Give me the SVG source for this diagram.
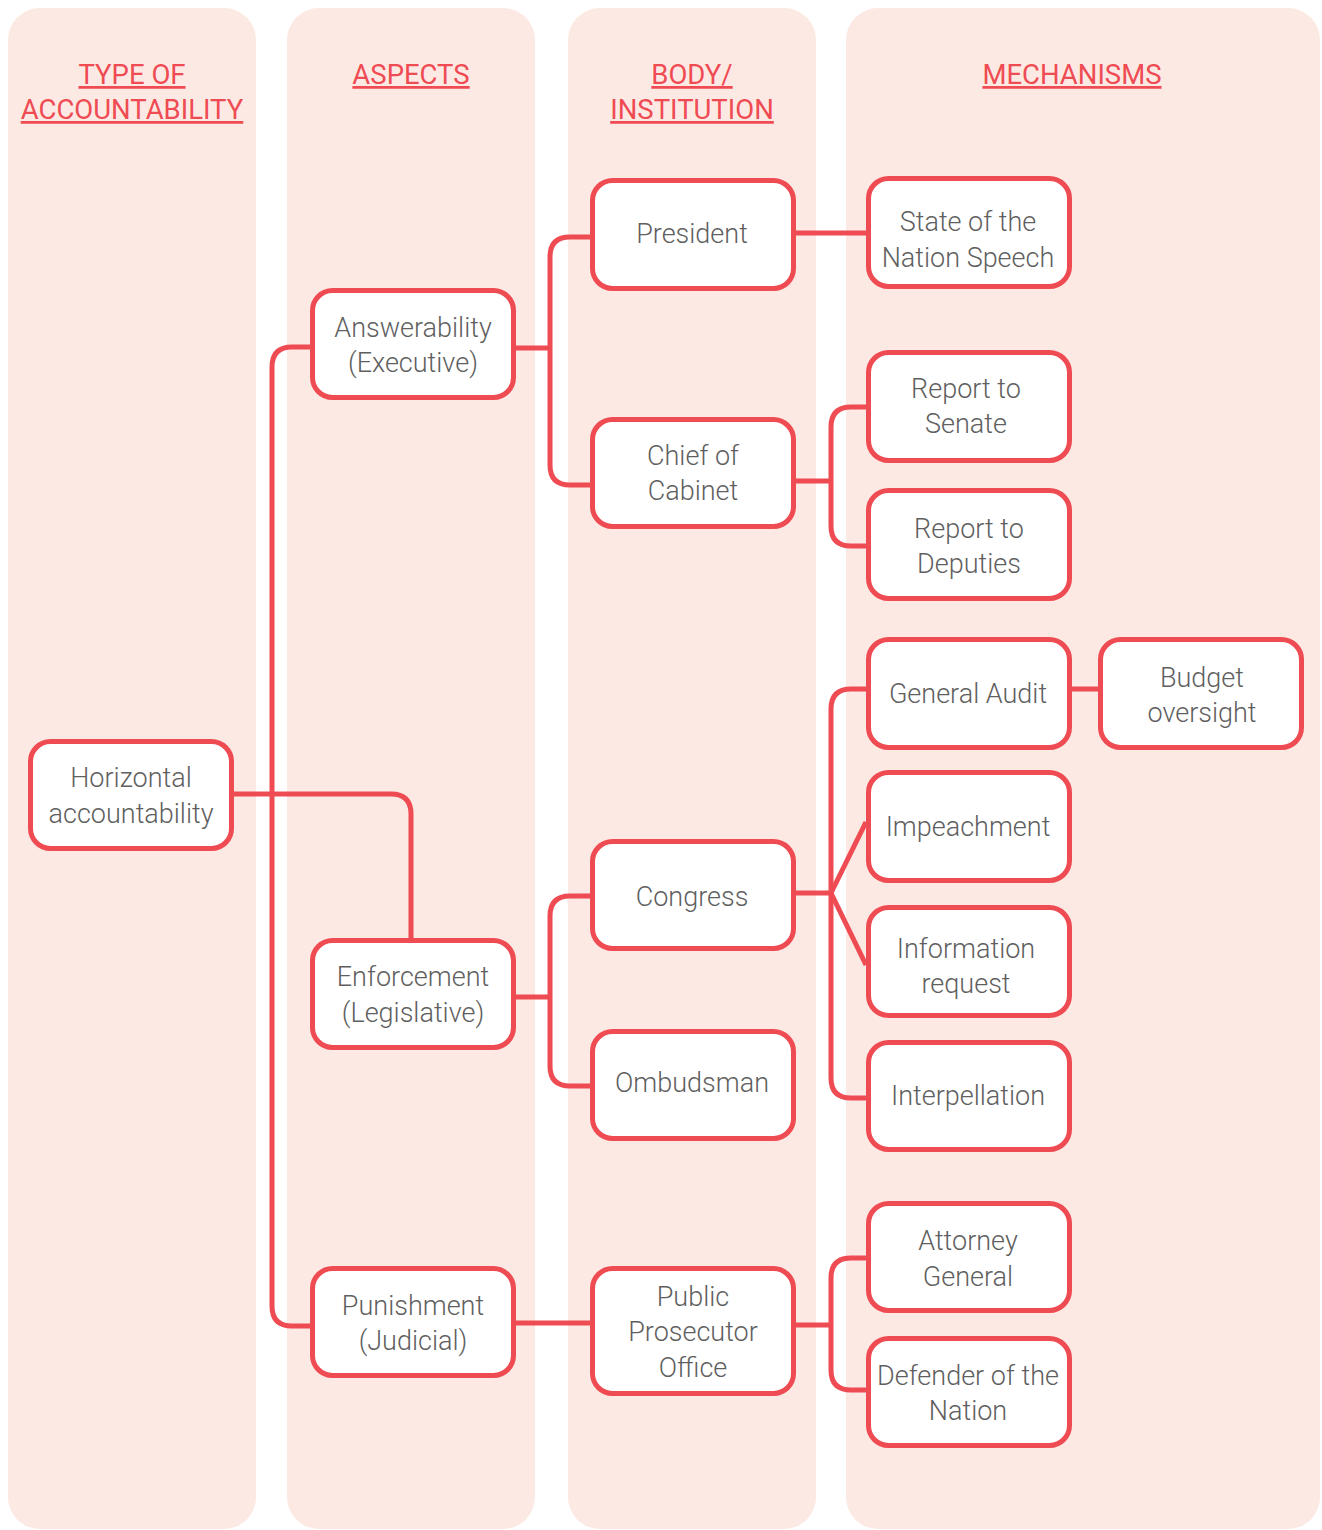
<svg xmlns="http://www.w3.org/2000/svg" width="1322" height="1530" viewBox="0 0 1322 1530">
<style>
.col{fill:#fce9e4}
.hd{font-family:Roboto,"Liberation Sans",sans-serif;font-size:27.5px;fill:#ef4b53;text-anchor:middle;text-decoration:underline}
.box{fill:#fff;stroke:#ef4b53;stroke-width:5}
.t{font-family:Roboto,"Liberation Sans",sans-serif;font-weight:300;font-size:27px;fill:#5f5f5f;text-anchor:middle}
.c{fill:none;stroke:#ef4b53;stroke-width:5}
</style>
<g id="columns">
<rect class="col" x="8" y="8" width="248" height="1521" rx="32"/>
<rect class="col" x="287" y="8" width="248" height="1521" rx="32"/>
<rect class="col" x="568" y="8" width="248" height="1521" rx="32"/>
<rect class="col" x="846" y="8" width="474" height="1521" rx="32"/>
</g>
<g id="headers">
<text class="hd" x="132" y="84">TYPE OF </text>
<text class="hd" x="132" y="119">ACCOUNTABILITY</text>
<text class="hd" x="411" y="84">ASPECTS</text>
<text class="hd" x="692" y="84">BODY/ </text>
<text class="hd" x="692" y="119">INSTITUTION</text>
<text class="hd" x="1072" y="84">MECHANISMS</text>
</g>
<g id="connectors">
<path class="c" d="M234 794 H391 Q411 794 411 814 V938"/>
<path class="c" d="M310 347 H292 Q272 347 272 367 V1306 Q272 1326 292 1326 H310"/>
<path class="c" d="M516 348 H550"/>
<path class="c" d="M590 237 H570 Q550 237 550 257 V465 Q550 485 570 485 H590"/>
<path class="c" d="M796 233 H866"/>
<path class="c" d="M796 481 H831"/>
<path class="c" d="M866 407 H851 Q831 407 831 427 V526 Q831 546 851 546 H866"/>
<path class="c" d="M796 893 H831"/>
<path class="c" d="M866 689 H851 Q831 689 831 709 V1078 Q831 1098 851 1098 H866"/>
<path class="c" d="M831 893 L866 822"/>
<path class="c" d="M831 893 L866 965"/>
<path class="c" d="M1072 689 H1098"/>
<path class="c" d="M516 997 H550"/>
<path class="c" d="M590 896 H570 Q550 896 550 916 V1066 Q550 1086 570 1086 H590"/>
<path class="c" d="M516 1323 H590"/>
<path class="c" d="M796 1325 H831"/>
<path class="c" d="M866 1258 H851 Q831 1258 831 1278 V1370 Q831 1390 851 1390 H866"/>
</g>
<g id="n-horizontal"><rect class="box" x="30.5" y="741.5" width="201" height="107" rx="20"/><text class="t" x="131" y="787">Horizontal</text><text class="t" x="131" y="823">accountability</text></g>
<g id="n-answerability"><rect class="box" x="312.5" y="290.5" width="201" height="107" rx="20"/><text class="t" x="413" y="337">Answerability</text><text class="t" x="413" y="372">(Executive)</text></g>
<g id="n-enforcement"><rect class="box" x="312.5" y="940.5" width="201" height="107" rx="20"/><text class="t" x="413" y="986">Enforcement</text><text class="t" x="413" y="1022">(Legislative)</text></g>
<g id="n-punishment"><rect class="box" x="312.5" y="1268.5" width="201" height="107" rx="20"/><text class="t" x="413" y="1315">Punishment</text><text class="t" x="413" y="1350">(Judicial)</text></g>
<g id="n-president"><rect class="box" x="592.5" y="180.5" width="201" height="108" rx="20"/><text class="t" x="692" y="243">President</text></g>
<g id="n-chief"><rect class="box" x="592.5" y="419.5" width="201" height="107" rx="20"/><text class="t" x="693" y="465">Chief of</text><text class="t" x="693" y="500">Cabinet</text></g>
<g id="n-congress"><rect class="box" x="592.5" y="841.5" width="201" height="107" rx="20"/><text class="t" x="692" y="906">Congress</text></g>
<g id="n-ombudsman"><rect class="box" x="592.5" y="1031.5" width="201" height="107" rx="20"/><text class="t" x="692" y="1092">Ombudsman</text></g>
<g id="n-prosecutor"><rect class="box" x="592.5" y="1268.5" width="201" height="125" rx="20"/><text class="t" x="693" y="1306">Public</text><text class="t" x="693" y="1341">Prosecutor</text><text class="t" x="693" y="1377">Office</text></g>
<g id="n-state"><rect class="box" x="868.5" y="178.5" width="201" height="108" rx="20"/><text class="t" x="968" y="231">State of the</text><text class="t" x="968" y="267">Nation Speech</text></g>
<g id="n-senate"><rect class="box" x="868.5" y="352.5" width="201" height="108" rx="20"/><text class="t" x="966" y="398">Report to</text><text class="t" x="966" y="433">Senate</text></g>
<g id="n-deputies"><rect class="box" x="868.5" y="490.5" width="201" height="108" rx="20"/><text class="t" x="969" y="538">Report to</text><text class="t" x="969" y="573">Deputies</text></g>
<g id="n-audit"><rect class="box" x="868.5" y="639.5" width="201" height="108" rx="20"/><text class="t" x="968" y="703">General Audit</text></g>
<g id="n-budget"><rect class="box" x="1100.5" y="639.5" width="201" height="108" rx="20"/><text class="t" x="1202" y="687">Budget</text><text class="t" x="1202" y="722">oversight</text></g>
<g id="n-impeachment"><rect class="box" x="868.5" y="772.5" width="201" height="108" rx="20"/><text class="t" x="968" y="836">Impeachment</text></g>
<g id="n-information"><rect class="box" x="868.5" y="907.5" width="201" height="108" rx="20"/><text class="t" x="966" y="958">Information</text><text class="t" x="966" y="993">request</text></g>
<g id="n-interpellation"><rect class="box" x="868.5" y="1042.5" width="201" height="107" rx="20"/><text class="t" x="968" y="1105">Interpellation</text></g>
<g id="n-attorney"><rect class="box" x="868.5" y="1203.5" width="201" height="107" rx="20"/><text class="t" x="968" y="1250">Attorney</text><text class="t" x="968" y="1286">General</text></g>
<g id="n-defender"><rect class="box" x="868.5" y="1338.5" width="201" height="107" rx="20"/><text class="t" x="968" y="1385">Defender of the</text><text class="t" x="968" y="1420">Nation</text></g>
</svg>
